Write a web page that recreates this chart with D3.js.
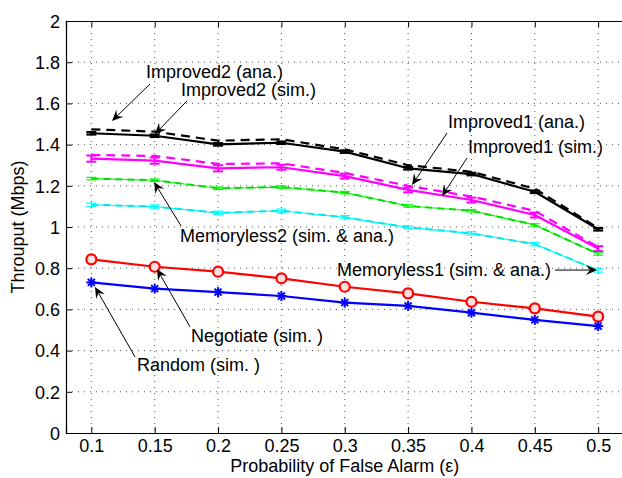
<!DOCTYPE html>
<html>
<head>
<meta charset="utf-8">
<script src="https://cdn.jsdelivr.net/npm/d3@7/dist/d3.min.js"></script>
<style>
  html, body { margin: 0; padding: 0; background: #fff; }
  svg { display: block; }
  text { font-family: "Liberation Sans", Arial, Helvetica, sans-serif; }
</style>
</head>
<body>
<svg id="chart" width="622" height="478"></svg>
<script>
// ---------------- data ----------------
const xValues = [0.1, 0.15, 0.2, 0.25, 0.3, 0.35, 0.4, 0.45, 0.5];
const xTicks = [0.1, 0.15, 0.2, 0.25, 0.3, 0.35, 0.4, 0.45, 0.5];
const xTickLabels = ["0.1", "0.15", "0.2", "0.25", "0.3", "0.35", "0.4", "0.45", "0.5"];
const yTicks = [0, 0.2, 0.4, 0.6, 0.8, 1, 1.2, 1.4, 1.6, 1.8, 2];
const yTickLabels = ["0", "0.2", "0.4", "0.6", "0.8", "1", "1.2", "1.4", "1.6", "1.8", "2"];

const improved2Ana = [1.474, 1.463, 1.419, 1.426, 1.377, 1.300, 1.268, 1.186, 0.995];
const improved2Sim = [1.455, 1.443, 1.401, 1.409, 1.366, 1.285, 1.257, 1.171, 0.989];
const improved1Ana = [1.350, 1.345, 1.306, 1.309, 1.262, 1.200, 1.148, 1.078, 0.903];
const improved1Sim = [1.332, 1.322, 1.285, 1.290, 1.247, 1.180, 1.131, 1.058, 0.895];
const memoryless2 = [1.235, 1.227, 1.188, 1.194, 1.167, 1.102, 1.079, 1.010, 0.869];
const memoryless1 = [1.108, 1.099, 1.069, 1.079, 1.047, 0.998, 0.969, 0.917, 0.789];
const negotiate = [0.843, 0.807, 0.783, 0.751, 0.710, 0.678, 0.637, 0.605, 0.565];
const randomSim = [0.731, 0.701, 0.684, 0.665, 0.633, 0.617, 0.584, 0.549, 0.519];

const errImproved2 = [0.006, 0.006, 0.006, 0.006, 0.006, 0.006, 0.006, 0.006, 0.006];
const errImproved1 = [0.015, 0.015, 0.015, 0.012, 0.012, 0.012, 0.012, 0.012, 0.012];
const errMemoryless2 = [0.006, 0.006, 0.006, 0.006, 0.006, 0.006, 0.006, 0.006, 0.006];
const errMemoryless1 = [0.008, 0.008, 0.008, 0.008, 0.008, 0.008, 0.008, 0.008, 0.008];

// annotations in data coordinates: label, text anchor point, arrow start, arrow tip
const annLabels = ["Improved2 (ana.)", "Improved2 (sim.)", "Improved1 (ana.)", "Improved1 (sim.)",
  "Memoryless2 (sim. & ana.)", "Memoryless1 (sim. & ana.)", "Negotiate (sim. )", "Random (sim. )"];
const annText = [[0.1431, 1.723], [0.1708, 1.636], [0.3815, 1.481], [0.3973, 1.359],
  [0.1700, 0.927], [0.2939, 0.762], [0.1787, 0.442], [0.1360, 0.301]];
const annFrom = [[0.1463, 1.694], [0.1755, 1.612], [0.3807, 1.456], [0.3965, 1.335],
  [0.1708, 1.005], [0.4659, 0.791], [0.1779, 0.515], [0.1345, 0.369]];
const annTo = [[0.1163, 1.515], [0.1502, 1.451], [0.3531, 1.204], [0.3768, 1.150],
  [0.1495, 1.218], [0.4991, 0.791], [0.1518, 0.796], [0.1029, 0.709]];

// ---------------- layout ----------------
const svg = d3.select("#chart");
const pLeft = 66, pRight = 623.5, pTop = 21, pBottom = 433;
const FS = 18;

const x = d3.scaleLinear().domain([0.08, 0.52]).range([pLeft, pRight]);
const y = d3.scaleLinear().domain([0, 2]).range([pBottom, pTop]);

// grid
const grid = svg.append("g");
grid.selectAll("line.gx").data(xTicks).enter().append("line")
  .attr("x1", d => x(d)).attr("x2", d => x(d)).attr("y1", pTop).attr("y2", pBottom)
  .attr("stroke", "#555").attr("stroke-width", 1).attr("stroke-dasharray", "1,5");
grid.selectAll("line.gy").data(yTicks.slice(1, -1)).enter().append("line")
  .attr("y1", d => y(d)).attr("y2", d => y(d)).attr("x1", pLeft).attr("x2", pRight)
  .attr("stroke", "#555").attr("stroke-width", 1).attr("stroke-dasharray", "1,5");

// axes
const xAxis = d3.axisBottom(x).tickValues(xTicks).tickSize(-6).tickFormat((d, i) => xTickLabels[i]);
const gx = svg.append("g").attr("transform", `translate(0,${pBottom})`).call(xAxis);
gx.select(".domain").attr("stroke", "#000").attr("stroke-width", 1.2);
gx.selectAll(".tick line").attr("stroke", "#000");
gx.selectAll(".tick text").attr("y", 19).attr("dy", "0em")
  .attr("font-size", FS).attr("fill", "#000").attr("font-family", "Liberation Sans, Arial, sans-serif");

const xTopAxis = d3.axisTop(x).tickValues(xTicks).tickSize(-6).tickFormat("");
const gxt = svg.append("g").attr("transform", `translate(0,${pTop})`).call(xTopAxis);
gxt.select(".domain").attr("stroke", "#000").attr("stroke-width", 1.2);
gxt.selectAll(".tick line").attr("stroke", "#000");

const yAxis = d3.axisLeft(y).tickValues(yTicks).tickSize(-6).tickFormat((d, i) => yTickLabels[i]);
const gy = svg.append("g").attr("transform", `translate(${pLeft},0)`).call(yAxis);
gy.select(".domain").attr("stroke", "#000").attr("stroke-width", 1.2);
gy.selectAll(".tick line").attr("stroke", "#000");
gy.selectAll(".tick text").attr("x", -6).attr("dy", "0.35em")
  .attr("font-size", FS).attr("fill", "#000").attr("font-family", "Liberation Sans, Arial, sans-serif");

// axis labels
svg.append("text").attr("x", (pLeft + pRight) / 2).attr("y", 472).attr("text-anchor", "middle")
  .attr("font-size", FS).text("Probability of False Alarm (\u03B5)");
svg.append("text").attr("transform", `translate(24,${(pTop + pBottom) / 2}) rotate(-90)`)
  .attr("text-anchor", "middle").attr("font-size", FS).text("Throuput (Mbps)");

// ---------------- series ----------------
const plot = svg.append("g");
const line = d3.line().x((d, i) => x(xValues[i])).y(d => y(d));

function drawLine(vals, color, width, dash) {
  plot.append("path").datum(vals).attr("d", line).attr("fill", "none")
    .attr("stroke", color).attr("stroke-width", width)
    .attr("stroke-dasharray", dash || null).attr("stroke-linejoin", "round");
}
function drawErr(vals, errs, color, width, capW) {
  const g = plot.append("g").attr("stroke", color).attr("stroke-width", width);
  vals.forEach((v, i) => {
    const cx = x(xValues[i]);
    g.append("line").attr("x1", cx).attr("x2", cx).attr("y1", y(v - errs[i])).attr("y2", y(v + errs[i]));
    g.append("line").attr("x1", cx - capW).attr("x2", cx + capW).attr("y1", y(v - errs[i])).attr("y2", y(v - errs[i]));
    g.append("line").attr("x1", cx - capW).attr("x2", cx + capW).attr("y1", y(v + errs[i])).attr("y2", y(v + errs[i]));
  });
}

// Memoryless1 (cyan)
drawLine(memoryless1, "#00ffff", 1.2);
drawLine(memoryless1, "#00e8e8", 2, "7,5");
drawErr(memoryless1, errMemoryless1, "#00ffff", 1.2, 5);
// Memoryless2 (green)
drawLine(memoryless2, "#00ff00", 1.2);
drawLine(memoryless2, "#00dd00", 2, "7,5");
drawErr(memoryless2, errMemoryless2, "#00ff00", 1.2, 5);
// Improved1 (magenta)
drawLine(improved1Ana, "#ff00ff", 2.2, "9,6");
drawLine(improved1Sim, "#ff00ff", 2.2);
drawErr(improved1Sim, errImproved1, "#ff00ff", 2, 5);
// Improved2 (black)
drawLine(improved2Ana, "#000", 2.2, "9,6");
drawLine(improved2Sim, "#000", 2.2);
drawErr(improved2Sim, errImproved2, "#000", 2.2, 5);

// Negotiate (red circles)
drawLine(negotiate, "#ff0000", 2.2);
plot.append("g").selectAll("circle").data(negotiate).enter().append("circle")
  .attr("cx", (d, i) => x(xValues[i])).attr("cy", d => y(d)).attr("r", 5)
  .attr("fill", "#ffdede").attr("stroke", "#ff0000").attr("stroke-width", 2.2);

// Random (blue stars)
drawLine(randomSim, "#0000ff", 2.2);
const star = plot.append("g").attr("stroke", "#0000ff").attr("stroke-width", 2);
randomSim.forEach((v, i) => {
  const cx = x(xValues[i]), cy = y(v), r = 5;
  star.append("line").attr("x1", cx - r).attr("x2", cx + r).attr("y1", cy).attr("y2", cy);
  star.append("line").attr("x1", cx).attr("x2", cx).attr("y1", cy - r).attr("y2", cy + r);
  star.append("line").attr("x1", cx - r * 0.7).attr("x2", cx + r * 0.7).attr("y1", cy - r * 0.7).attr("y2", cy + r * 0.7);
  star.append("line").attr("x1", cx - r * 0.7).attr("x2", cx + r * 0.7).attr("y1", cy + r * 0.7).attr("y2", cy - r * 0.7);
});

// ---------------- annotations ----------------
const ann = svg.append("g");
annLabels.forEach((lab, i) => {
  ann.append("text").attr("x", x(annText[i][0])).attr("y", y(annText[i][1]))
    .attr("font-size", FS).attr("fill", "#000").text(lab);
  const x1 = x(annFrom[i][0]), y1 = y(annFrom[i][1]);
  const x2 = x(annTo[i][0]), y2 = y(annTo[i][1]);
  const ang = Math.atan2(y2 - y1, x2 - x1);
  const L = 11, W = 5, N = 7;
  const ux = Math.cos(ang), uy = Math.sin(ang), px = -uy, py = ux;
  ann.append("line").attr("x1", x1).attr("y1", y1)
    .attr("x2", x2 - ux * N).attr("y2", y2 - uy * N)
    .attr("stroke", "#000").attr("stroke-width", 1);
  const pts = [
    [x2, y2],
    [x2 - ux * L + px * W, y2 - uy * L + py * W],
    [x2 - ux * N, y2 - uy * N],
    [x2 - ux * L - px * W, y2 - uy * L - py * W]
  ];
  ann.append("path").attr("d", "M" + pts.map(p => p.join(",")).join("L") + "Z").attr("fill", "#000");
});
</script>
</body>
</html>
